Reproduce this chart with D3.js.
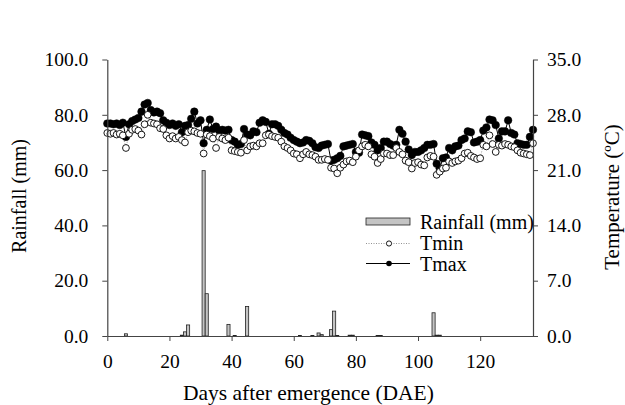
<!DOCTYPE html>
<html>
<head>
<meta charset="utf-8">
<script src="https://cdn.jsdelivr.net/npm/d3@7"></script>
<style>
  html, body { margin: 0; padding: 0; background: #fff; }
  svg { display: block; }
  text { font-family: "Liberation Serif", "Times New Roman", serif; fill: #000; }
</style>
</head>
<body>
<svg id="chart" width="625" height="405"></svg>
<script>
// ---- data ----
const rainDays = [6, 24, 25, 26, 31, 32, 39, 41, 45, 62, 66, 68, 69, 72, 73, 74, 78, 79, 87, 88, 105, 106, 107];
const rainfall = [0.8, 0.3, 1.5, 4.0, 59.8, 15.3, 4.2, 0.2, 10.7, 0.2, 0.2, 1.1, 0.5, 2.3, 9.0, 0.2, 0.3, 0.3, 0.2, 0.2, 8.4, 0.3, 0.3];

const tmax = [
  26.9, 26.9, 26.8, 26.9, 26.7, 27.0, 25.2, 26.8, 27.2, 27.4,
  27.6, 28.4, 29.3, 29.5, 28.6, 28.3, 28.4, 28.2, 27.3, 27.0,
  26.7, 26.9, 26.6, 26.8, 25.8, 26.6, 26.7, 27.5, 28.4, 26.9,
  27.3, 24.4, 26.1, 27.4, 26.2, 26.5, 26.0, 26.1, 26.0, 26.1,
  24.8, 24.6, 24.2, 24.3, 26.2, 25.5, 25.4, 25.9, 25.8, 27.0,
  27.3, 27.1, 25.6, 26.8, 26.8, 26.6, 26.1, 25.7, 25.5, 25.1,
  24.8, 24.6, 24.4, 24.5, 24.8, 24.7, 24.4, 23.9, 23.8, 24.1,
  24.2, 24.3, 22.2, 22.3, 22.5, 22.8, 24.0, 24.1, 24.2, 24.3,
  23.3, 23.2, 25.5, 25.4, 25.3, 24.5, 24.2, 23.5, 23.8, 24.6,
  24.6, 24.3, 24.1, 24.2, 26.1, 25.6, 24.6, 23.6, 22.9, 23.3,
  23.3, 23.5, 23.8, 24.2, 24.2, 24.3, 21.8, 21.2, 22.5, 22.6,
  23.8, 23.5, 24.0, 24.1, 24.8, 25.0, 25.9, 25.8, 24.5, 24.6,
  24.8, 26.0, 26.4, 27.4, 27.3, 26.7, 25.0, 25.9, 25.9, 27.3,
  25.7, 25.5, 24.4, 24.3, 24.2, 24.2, 25.2, 26.1
];
const tmin = [
  25.7, 25.6, 25.7, 25.5, 25.6, 25.4, 23.8, 25.6, 26.1, 26.2,
  26.0, 25.5, 26.8, 28.0, 27.0, 26.9, 26.8, 26.3, 26.2, 25.4,
  25.0, 25.3, 25.0, 25.2, 24.8, 24.5, 25.8, 26.0, 25.9, 25.7,
  25.6, 23.1, 25.5, 25.3, 25.0, 23.8, 25.2, 25.0, 24.8, 25.1,
  23.5, 23.4, 23.3, 23.2, 24.8, 23.5, 24.0, 24.1, 24.0, 24.4,
  24.4, 25.4, 25.5, 25.3, 25.2, 25.1, 24.6, 24.0, 23.8, 23.5,
  23.1, 23.0, 22.5, 23.0, 23.3, 23.0, 22.9, 22.7, 22.3, 22.3,
  22.4, 22.3, 21.3, 21.2, 20.6, 21.3, 21.7, 22.1, 22.2, 22.0,
  22.7, 23.5, 24.0, 24.2, 24.0, 23.0, 22.7, 21.9, 22.4, 23.1,
  23.1, 22.9, 22.9, 23.8, 23.3, 23.0, 22.2, 22.0, 21.2, 21.9,
  22.0, 21.7, 21.6, 22.6, 22.8, 22.7, 20.4, 20.8, 21.2, 21.3,
  22.1, 21.9, 22.1, 22.2, 22.5, 23.1, 23.2, 22.8, 22.6, 22.4,
  22.5, 24.2, 24.0, 25.4, 24.3, 23.3, 24.2, 24.1, 24.3, 24.2,
  24.0, 23.9, 23.5, 23.2, 23.1, 23.0, 22.9, 24.4
];
const xTicks = [0, 20, 40, 60, 80, 100, 120];
const rainTicks = [0, 20, 40, 60, 80, 100];
const tempTicks = [0, 7, 14, 21, 28, 35];
const legendLabels = ["Rainfall (mm)", "Tmin", "Tmax"];

// ---- layout ----
const svg = d3.select("#chart");
const x = d3.scaleLinear().domain([0, 137]).range([107.3, 533]);
const yR = d3.scaleLinear().domain([0, 100]).range([336, 59.5]);
const yT = d3.scaleLinear().domain([0, 35]).range([336, 59.5]);
const axisColor = "#444";
const tickFont = "19.5px";

// bars
const dayW = x(1) - x(0);
svg.append("g").selectAll("rect")
  .data(rainDays.map((d, i) => ({ d, v: rainfall[i] })))
  .join("rect")
  .attr("x", p => x(p.d) - dayW / 2)
  .attr("y", p => yR(p.v))
  .attr("width", dayW)
  .attr("height", p => yR(0) - yR(p.v))
  .attr("fill", "#c4c4c4")
  .attr("stroke", "#222")
  .attr("stroke-width", 0.8);

// temperature lines and points
const line = arr => d3.line().x((_, i) => x(i)).y(v => yT(v))(arr);

svg.append("path").attr("d", line(tmax))
  .attr("fill", "none").attr("stroke", "#000").attr("stroke-width", 1);
svg.append("path").attr("d", line(tmin))
  .attr("fill", "none").attr("stroke", "#777").attr("stroke-width", 0.8)
  .attr("stroke-dasharray", "1,1.5");

svg.append("g").selectAll("circle").data(tmax).join("circle")
  .attr("cx", (_, i) => x(i)).attr("cy", v => yT(v)).attr("r", 3.8)
  .attr("fill", "#000").attr("stroke", "#000").attr("stroke-width", 0.5);
svg.append("g").selectAll("circle").data(tmin).join("circle")
  .attr("cx", (_, i) => x(i)).attr("cy", v => yT(v)).attr("r", 3.4)
  .attr("fill", "#fff").attr("stroke", "#000").attr("stroke-width", 0.9);

// axes
function styleAxis(g) {
  g.select(".domain").attr("stroke", axisColor).attr("stroke-width", 1.2);
  g.selectAll(".tick line").attr("stroke", axisColor).attr("stroke-width", 1);
  g.selectAll(".tick text").style("font-size", tickFont)
    .style("font-family", '"Liberation Serif", serif').attr("fill", "#000");
}
svg.append("g").attr("transform", `translate(0,${yR(0)})`)
  .call(d3.axisBottom(x).tickValues(xTicks).tickFormat(d3.format("d"))
    .tickSize(5).tickSizeOuter(0).tickPadding(13))
  .call(styleAxis);
svg.append("g").attr("transform", `translate(${x(0)},0)`)
  .call(d3.axisLeft(yR).tickValues(rainTicks).tickFormat(d3.format(".1f"))
    .tickSize(5).tickSizeOuter(0).tickPadding(14))
  .call(styleAxis);
svg.append("g").attr("transform", `translate(${x(137)},0)`)
  .call(d3.axisRight(yT).tickValues(tempTicks).tickFormat(d3.format(".1f"))
    .tickSize(5).tickSizeOuter(0).tickPadding(9))
  .call(styleAxis);

// titles
svg.append("text").attr("x", 183).attr("y", 400)
  .style("font-size", "21.5px").text("Days after emergence (DAE)");
svg.append("text").attr("transform", "translate(26,196) rotate(-90)")
  .attr("text-anchor", "middle").style("font-size", "20px").text("Rainfall (mm)");
svg.append("text").attr("transform", "translate(619,197) rotate(-90)")
  .attr("text-anchor", "middle").style("font-size", "21px").text("Temperature (ºC)");

// legend
const lg = svg.append("g");
lg.append("rect").attr("x", 366).attr("y", 218).attr("width", 44).attr("height", 7)
  .attr("fill", "#c4c4c4").attr("stroke", "#222").attr("stroke-width", 0.8);
lg.append("line").attr("x1", 366).attr("x2", 410).attr("y1", 243.5).attr("y2", 243.5)
  .attr("stroke", "#777").attr("stroke-width", 0.8).attr("stroke-dasharray", "1,1.5");
lg.append("circle").attr("cx", 389).attr("cy", 243.5).attr("r", 2.6)
  .attr("fill", "#fff").attr("stroke", "#000").attr("stroke-width", 0.9);
lg.append("line").attr("x1", 366).attr("x2", 410).attr("y1", 263.5).attr("y2", 263.5)
  .attr("stroke", "#000").attr("stroke-width", 1);
lg.append("circle").attr("cx", 389).attr("cy", 263.5).attr("r", 2.8).attr("fill", "#000");
[228.5, 250, 270.5].forEach((yy, i) => {
  lg.append("text").attr("x", 420).attr("y", yy).style("font-size", "20px").text(legendLabels[i]);
});
</script>
</body>
</html>
